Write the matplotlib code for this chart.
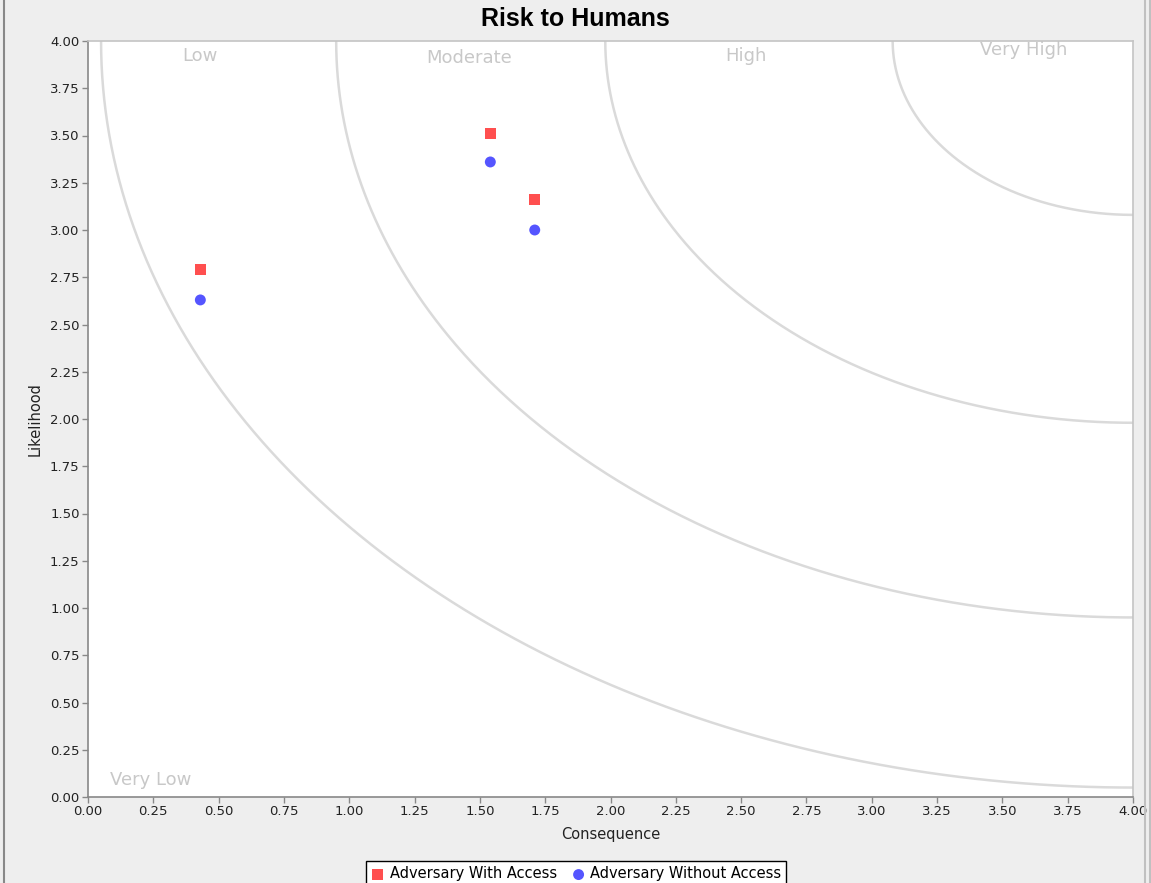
import numpy as np
import matplotlib
matplotlib.use("Agg")
import matplotlib.pyplot as plt
from matplotlib.lines import Line2D

# ---- data ----
title = "Risk to Humans"
x_label = "Consequence"
y_label = "Likelihood"

with_access_x = [0.43, 1.54, 1.71]
with_access_y = [2.79, 3.51, 3.16]
without_access_x = [0.43, 1.54, 1.71]
without_access_y = [2.63, 3.36, 3.00]

zone_radii = [3.95, 3.05, 2.02, 0.92]   # iso-risk arcs centred on (4, 4)
zone_names = ["Very Low", "Low", "Moderate", "High", "Very High"]
zone_label_x = [0.24, 0.43, 1.46, 2.52, 3.58]
zone_label_y = [0.09, 3.92, 3.91, 3.92, 3.95]

ticks = [0.0, 0.25, 0.5, 0.75, 1.0, 1.25, 1.5, 1.75, 2.0, 2.25, 2.5, 2.75,
         3.0, 3.25, 3.5, 3.75, 4.0]
tick_labels = ["%.2f" % t for t in ticks]

# ---- figure ----
plt.rcParams['font.family'] = ['DejaVu Sans']
W, H = 1151, 883
fig = plt.figure(figsize=(W / 100, H / 100), dpi=100, facecolor='#EEEEEE')
ax = fig.add_axes([88 / W, 1 - 797 / H, (1133 - 88) / W, (797 - 41) / H])
ax.set_facecolor('white')

# arcs
theta = np.linspace(np.pi, 1.5 * np.pi, 400)
for r in zone_radii:
    ax.plot(4 + r * np.cos(theta), 4 + r * np.sin(theta), color='#DADADA',
            lw=1.8, solid_capstyle='butt', zorder=1)

for name, lx, ly in zip(zone_names, zone_label_x, zone_label_y):
    ax.text(lx, ly, name, color='#C8C8C8', fontsize=13, ha='center',
            va='center', zorder=2)

ax.scatter(with_access_x, with_access_y, marker='s', s=62, color='#FF4F4F',
           edgecolors='none', zorder=3, label='Adversary With Access')
ax.scatter(without_access_x, without_access_y, marker='o', s=62,
           color='#5555FF', edgecolors='none', zorder=3,
           label='Adversary Without Access')

ax.set_xlim(0, 4)
ax.set_ylim(0, 4)
ax.set_xticks(ticks)
ax.set_xticklabels(tick_labels)
ax.set_yticks(ticks)
ax.set_yticklabels(tick_labels)
ax.tick_params(axis='both', direction='out', length=4, width=1,
               color='#888888', labelsize=9.5, labelcolor='#222222', pad=2)

for side in ['left', 'bottom']:
    ax.spines[side].set_color('#888888')
    ax.spines[side].set_linewidth(1.2)
for side in ['top', 'right']:
    ax.spines[side].set_color('#C4C4C4')
    ax.spines[side].set_linewidth(1.2)

ax.set_xlabel(x_label, fontsize=10.5, color='#222222', labelpad=6)
ax.set_ylabel(y_label, fontsize=10.5, color='#222222', labelpad=5)

fig.text(575 / W, 1 - 19 / H, title, fontsize=18, fontweight='bold',
         family='Liberation Sans', ha='center', va='center', color='black')

leg = fig.legend(loc='upper center', bbox_to_anchor=(576 / W, 1 - 854 / H),
                 ncol=2, fontsize=10.5, frameon=True, fancybox=False,
                 edgecolor='black', facecolor='white', framealpha=1,
                 handletextpad=0.3, columnspacing=1.0, borderpad=0.35,
                 handlelength=1.0, markerscale=1.0)
leg.get_frame().set_linewidth(1.0)

# window frame lines
for xp, c in [(3.5, '#888888'), (1144.5, '#C0C0C0'), (1149.5, '#C0C0C0')]:
    fig.add_artist(Line2D([xp / W, xp / W], [0, 1], color=c, lw=1.5,
                          transform=fig.transFigure))

fig.savefig('out.png', dpi=100, facecolor=fig.get_facecolor())
